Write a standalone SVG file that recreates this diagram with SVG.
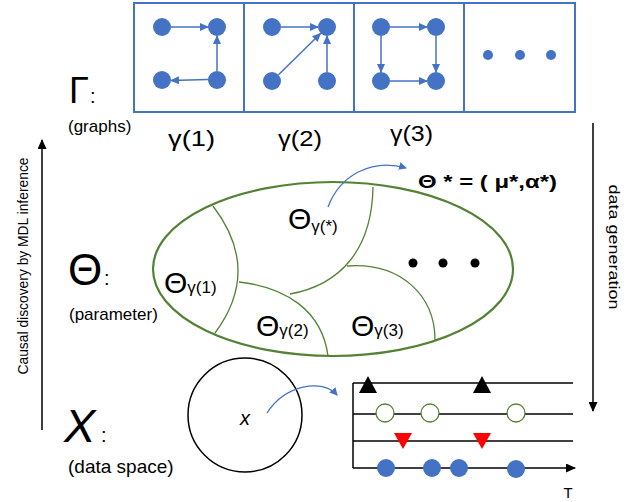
<svg xmlns="http://www.w3.org/2000/svg" width="635" height="502" viewBox="0 0 635 502">
<defs>
<marker id="ab" markerWidth="9" markerHeight="8" refX="8" refY="4" orient="auto" markerUnits="userSpaceOnUse"><path d="M0,0 L9,4 L0,8 Z" fill="#4472C4"/></marker>
<marker id="ak" markerWidth="10" markerHeight="9" refX="9" refY="4.5" orient="auto" markerUnits="userSpaceOnUse"><path d="M0,0 L10,4.5 L0,9 Z" fill="#000"/></marker>
<marker id="as" markerWidth="8" markerHeight="8" refX="7" refY="4" orient="auto" markerUnits="userSpaceOnUse"><path d="M0,0 L8,4 L0,8 Z" fill="#4472C4"/></marker>
</defs>
<style>
.box{fill:#fff;stroke:#4472C4;stroke-width:2}
.n{fill:#4472C4}
.e{stroke:#4472C4;stroke-width:1.5;fill:none;marker-end:url(#ab)}
.t{font-family:"Liberation Sans",Arial,sans-serif;fill:#000}
.g{fill:none;stroke:#548235;stroke-width:1.3}
.ln{stroke:#000;stroke-width:1.5;fill:none}
</style>
<rect width="635" height="502" fill="#fff"/>

<g id="graphs">
<rect class="box" x="134" y="3" width="441" height="109"/>
<line x1="244" y1="3" x2="244" y2="112" stroke="#4472C4" stroke-width="2"/>
<line x1="354" y1="3" x2="354" y2="112" stroke="#4472C4" stroke-width="2"/>
<line x1="464" y1="3" x2="464" y2="112" stroke="#4472C4" stroke-width="2"/>
</g>
<g id="graph1">
<circle class="n" cx="162" cy="27" r="9"/><circle class="n" cx="217" cy="27" r="9"/>
<circle class="n" cx="162" cy="80" r="9"/><circle class="n" cx="217" cy="80" r="9"/>
</g>
<g id="graph2">
<circle class="n" cx="272" cy="27" r="9"/><circle class="n" cx="327" cy="27" r="9"/>
<circle class="n" cx="272" cy="81" r="9"/><circle class="n" cx="327" cy="81" r="9"/>
</g>
<g id="graph3">
<circle class="n" cx="381" cy="27" r="9"/><circle class="n" cx="436" cy="27" r="9"/>
<circle class="n" cx="381" cy="81" r="9"/><circle class="n" cx="436" cy="81" r="9"/>
</g>
<g id="graph-more">
<circle class="n" cx="488" cy="55" r="5"/><circle class="n" cx="520" cy="55" r="5"/><circle class="n" cx="551" cy="55" r="5"/>
</g>
<g id="graph-edges">
<line class="e" x1="171" y1="27" x2="208" y2="27"/>
<line class="e" x1="217" y1="71" x2="217" y2="36"/>
<line class="e" x1="208" y1="79.5" x2="171" y2="80.5"/>
<line class="e" x1="281" y1="27" x2="318" y2="27"/>
<line class="e" x1="278.5" y1="74.8" x2="320.5" y2="33.5"/>
<line class="e" x1="327" y1="72" x2="327" y2="36"/>
<line class="e" x1="390" y1="27" x2="427" y2="27"/>
<line class="e" x1="381" y1="36" x2="381" y2="72"/>
<line class="e" x1="436" y1="36" x2="436" y2="72"/>
<line class="e" x1="390" y1="81" x2="427" y2="81"/>
</g>

<g id="graph-labels">
<text class="t" x="168" y="146" font-size="22" textLength="47" lengthAdjust="spacingAndGlyphs">γ(1)</text>
<text class="t" x="278" y="146" font-size="22" textLength="44" lengthAdjust="spacingAndGlyphs">γ(2)</text>
<text class="t" x="390" y="141" font-size="22" textLength="43" lengthAdjust="spacingAndGlyphs">γ(3)</text>
</g>

<g id="side-labels">
<text class="t" x="69" y="103" font-size="36">Γ</text>
<text class="t" x="90" y="103" font-size="20">:</text>
<text class="t" x="68" y="132" font-size="17">(graphs)</text>
<text class="t" x="68" y="285" font-size="44">Θ</text>
<text class="t" x="104" y="285" font-size="20">:</text>
<text class="t" x="69" y="320" font-size="17">(parameter)</text>
<text class="t" x="64" y="442" font-size="47" font-style="italic">X</text>
<text class="t" x="101" y="442" font-size="20">:</text>
<text class="t" x="68" y="473" font-size="19">(data space)</text>
</g>

<g id="left-axis">
<line class="ln" x1="42" y1="430" x2="42" y2="140" style="marker-end:url(#ak)"/>
<text class="t" transform="translate(28,266) rotate(-90)" font-size="15" text-anchor="middle" textLength="217" lengthAdjust="spacingAndGlyphs">Causal discovery by MDL inference</text>
</g>
<g id="right-axis">
<line class="ln" x1="593" y1="123" x2="593" y2="411" style="marker-end:url(#ak)"/>
<text class="t" transform="translate(609,247) rotate(90)" font-size="15" text-anchor="middle" textLength="125" lengthAdjust="spacingAndGlyphs">data generation</text>
</g>

<g id="parameter-space">
<ellipse cx="333" cy="269" rx="180" ry="87" fill="none" stroke="#548235" stroke-width="2.2"/>
<path class="g" d="M213,206 Q262,270 215,333"/>
<path class="g" d="M239,282 C285,287 322,310 328,356"/>
<path class="g" d="M290,294 C340,285 372,250 373,187"/>
<path class="g" d="M347,266 C400,262 435,295 435,340"/>
<text class="t" x="164" y="293" font-size="30">Θ<tspan font-size="17" dy="0">γ(1)</tspan></text>
<text class="t" x="288" y="229" font-size="30">Θ<tspan font-size="17" dy="3">γ(*)</tspan></text>
<text class="t" x="256" y="336" font-size="30">Θ<tspan font-size="17" dy="0">γ(2)</tspan></text>
<text class="t" x="351" y="336" font-size="30">Θ<tspan font-size="17" dy="0">γ(3)</tspan></text>
<circle cx="413" cy="263" r="4.5" fill="#000"/>
<circle cx="443" cy="263" r="4.5" fill="#000"/>
<circle cx="475" cy="263" r="4.5" fill="#000"/>
</g>

<g id="theta-star">
<text class="t" x="418" y="188" font-size="18" font-weight="bold" textLength="139" lengthAdjust="spacingAndGlyphs">Θ * = ( μ*,α*)</text>
</g>

<g id="data-space">
<circle cx="245" cy="415" r="57" fill="none" stroke="#000" stroke-width="1.5"/>
<text class="t" x="245" y="425" font-size="20" font-style="italic" text-anchor="middle">x</text>
</g>

<g id="timeline">
<line class="ln" x1="353" y1="383" x2="353" y2="468"/>
<line class="ln" x1="353" y1="383" x2="573" y2="383"/>
<line class="ln" x1="353" y1="414" x2="573" y2="414"/>
<line class="ln" x1="353" y1="441" x2="573" y2="441"/>
<line class="ln" x1="353" y1="468" x2="575" y2="468" style="marker-end:url(#ak)"/>
<path d="M368,376 L377,393 L359,393 Z" fill="#000"/>
<path d="M482,376 L491,393 L473,393 Z" fill="#000"/>
<circle cx="385" cy="413" r="9" fill="#fff" stroke="#548235" stroke-width="1.3"/>
<circle cx="430" cy="413" r="9" fill="#fff" stroke="#548235" stroke-width="1.3"/>
<circle cx="516" cy="413" r="9" fill="#fff" stroke="#548235" stroke-width="1.3"/>
<path d="M394,433 L412,433 L403,449 Z" fill="#FF0000"/>
<path d="M473,433 L491,433 L482,449 Z" fill="#FF0000"/>
<circle cx="386" cy="468" r="9" fill="#4472C4"/>
<circle cx="432" cy="468" r="9" fill="#4472C4"/>
<circle cx="459" cy="468" r="9" fill="#4472C4"/>
<circle cx="516" cy="469" r="9" fill="#4472C4"/>
<text class="t" x="568" y="498" font-size="15" text-anchor="middle">T</text>
</g>

<g id="connectors">
<path d="M328,207 C340,175 372,158 406,168" fill="none" stroke="#4472C4" stroke-width="1.3" marker-end="url(#as)"/>
<path d="M267,413 C285,385 322,378 337,395" fill="none" stroke="#4472C4" stroke-width="1.3" marker-end="url(#as)"/>
</g>
</svg>
